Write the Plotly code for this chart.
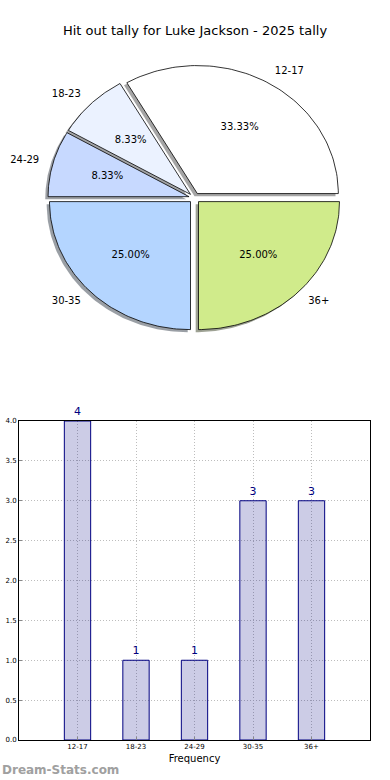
import numpy as np
import plotly.graph_objects as go

# ---- data ----
categories = ["12-17", "18-23", "24-29", "30-35", "36+"]
counts = [4, 1, 1, 3, 3]
pie_colors = ["#FFFFFF", "#EBF2FF", "#C7D9FF", "#B4D5FF", "#D0EB8B"]
y_tick_vals = [0.0, 0.5, 1.0, 1.5, 2.0, 2.5, 3.0, 3.5, 4.0]
title_text = "Hit out tally for Luke Jackson - 2025 tally"

# ---- geometry (layout only) ----
W, H = 390, 780
CX, CY = 194.5, 198.0      # pie centre in pixels
RX, RY = 141.0, 128.0      # pie radii in pixels (elliptical)
EXPLODE = 0.04
SHADOW = 0.02
LABEL_D = 1.1
PCT_D = 0.6

fig = go.Figure()

total = sum(counts)
starts, ends = [], []
acc = 0.0
for c in counts:
    starts.append(2 * np.pi * acc / total)
    acc += c
    ends.append(2 * np.pi * acc / total)

def wedge(i):
    mid = (starts[i] + ends[i]) / 2
    ox, oy = EXPLODE * np.cos(mid), EXPLODE * np.sin(mid)
    ang = np.linspace(starts[i], ends[i], 80)
    xs = np.concatenate([[ox], ox + np.cos(ang), [ox]])
    ys = np.concatenate([[oy], oy + np.sin(ang), [oy]])
    return xs, ys, mid, ox, oy

def shade(hexcol):
    r = int(hexcol[1:3], 16); g = int(hexcol[3:5], 16); b = int(hexcol[5:7], 16)
    return f"rgba({int(r*0.3)},{int(g*0.3)},{int(b*0.3)},0.5)"

# shadows first
for i in range(len(counts)):
    xs, ys, mid, ox, oy = wedge(i)
    fig.add_trace(go.Scatter(x=xs - SHADOW, y=ys - SHADOW, mode="lines", fill="toself",
                             fillcolor=shade(pie_colors[i]), line=dict(width=0),
                             xaxis="x2", yaxis="y2", hoverinfo="skip", showlegend=False))
for i in range(len(counts)):
    xs, ys, mid, ox, oy = wedge(i)
    fig.add_trace(go.Scatter(x=xs, y=ys, mode="lines", fill="toself",
                             fillcolor=pie_colors[i], line=dict(color="black", width=0.8),
                             xaxis="x2", yaxis="y2", hoverinfo="skip", showlegend=False))

# labels
for i, cat in enumerate(categories):
    mid = (starts[i] + ends[i]) / 2
    ox, oy = EXPLODE * np.cos(mid), EXPLODE * np.sin(mid)
    lx, ly = ox + LABEL_D * np.cos(mid), oy + LABEL_D * np.sin(mid)
    pos = "middle right" if lx > 0 else "middle left"
    fig.add_trace(go.Scatter(x=[lx], y=[ly], mode="text", text=[cat], textposition=pos,
                             textfont=dict(family="DejaVu Sans", size=10, color="black"),
                             xaxis="x2", yaxis="y2", hoverinfo="skip", showlegend=False))
    px, py = ox + PCT_D * np.cos(mid), oy + PCT_D * np.sin(mid)
    pct = 100.0 * counts[i] / total
    fig.add_trace(go.Scatter(x=[px], y=[py], mode="text", text=[f"{pct:.2f}%"],
                             textposition="middle center",
                             textfont=dict(family="DejaVu Sans", size=10, color="black"),
                             xaxis="x2", yaxis="y2", hoverinfo="skip", showlegend=False))

# bar chart
fig.add_trace(go.Bar(x=categories, y=counts, width=0.45,
                     marker=dict(color="rgba(0,0,128,0.2)", line=dict(color="#000080", width=1)),
                     text=[str(c) for c in counts], textposition="outside",
                     textfont=dict(family="DejaVu Sans", size=11, color="#000080"),
                     cliponaxis=False, hoverinfo="skip", showlegend=False,
                     xaxis="x", yaxis="y"))

pie_top_px, pie_bot_px = 0, 390
bar_left, bar_right, bar_top, bar_bot = 19, 370, 421, 740
GRID_DASH = "1px,2px"

fig.update_layout(
    width=W, height=H, margin=dict(l=0, r=0, t=0, b=0, autoexpand=False),
    paper_bgcolor="white", plot_bgcolor="white",
    font=dict(family="DejaVu Sans", color="black"),
    title=dict(text=title_text, x=0.5, xanchor="center", y=1 - 30 / H, yanchor="middle",
               automargin=False,
               font=dict(family="DejaVu Sans", size=13, color="black")),
    xaxis2=dict(domain=[0, 1], range=[-CX / RX, (W - CX) / RX], visible=False,
                anchor="y2", fixedrange=True, automargin=False),
    yaxis2=dict(domain=[1 - pie_bot_px / H, 1 - pie_top_px / H],
                range=[-(pie_bot_px - CY) / RY, (CY - pie_top_px) / RY], visible=False,
                anchor="x2", fixedrange=True, automargin=False),
    xaxis=dict(domain=[bar_left / W, bar_right / W], range=[-1, 5], type="category",
               automargin=False,
               showgrid=True, gridcolor="#BDBDBD", griddash=GRID_DASH, gridwidth=1,
               showline=True, linecolor="black", linewidth=1, mirror=True,
               ticks="inside", ticklen=3, tickcolor="#888",
               tickfont=dict(family="DejaVu Sans", size=7, color="black"),
               title=dict(text="Frequency", font=dict(family="DejaVu Sans", size=10), standoff=4),
               anchor="y", zeroline=False),
    yaxis=dict(domain=[1 - bar_bot / H, 1 - bar_top / H], range=[0, 4],
               automargin=False,
               tickvals=y_tick_vals, tickformat=".1f",
               showgrid=True, gridcolor="#BDBDBD", griddash=GRID_DASH, gridwidth=1,
               showline=True, linecolor="black", linewidth=1, mirror=True,
               ticks="inside", ticklen=3, tickcolor="#888",
               tickfont=dict(family="DejaVu Sans", size=7, color="black"),
               anchor="x", zeroline=False),
    annotations=[dict(text="<b>Dream-Stats.com</b>", x=0, y=1 - 770 / H, xref="paper", yref="paper",
                      xanchor="left", yanchor="middle", showarrow=False,
                      font=dict(family="DejaVu Sans", size=12, color="#A0A0A0"))],
)

fig.write_html("out.html", config={"displayModeBar": False},
               post_script="document.body.style.margin='0px';document.body.style.overflow='hidden';"
                           "document.documentElement.style.overflow='hidden';")
